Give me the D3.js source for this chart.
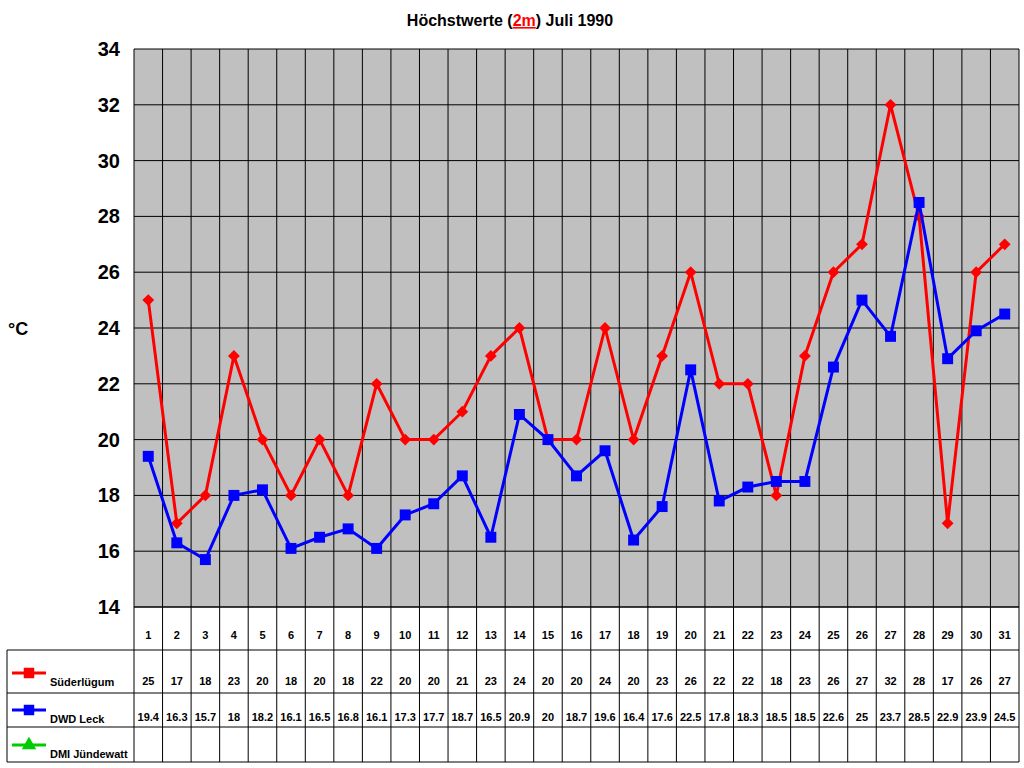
<!DOCTYPE html>
<html><head><meta charset="utf-8">
<script src="https://cdn.jsdelivr.net/npm/d3@7"></script>
<style>body{margin:0;background:#fff}text{font-family:"Liberation Sans",Arial,sans-serif}</style>
</head><body><svg id="c" width="1024" height="768"></svg>
<script>
const days = d3.range(1,32);
const suederluegum = [25,17,18,23,20,18,20,18,22,20,20,21,23,24,20,20,24,20,23,26,22,22,18,23,26,27,32,28,17,26,27];
const dwdLeck = [19.4,16.3,15.7,18,18.2,16.1,16.5,16.8,16.1,17.3,17.7,18.7,16.5,20.9,20,18.7,19.6,16.4,17.6,22.5,17.8,18.3,18.5,18.5,22.6,25,23.7,28.5,22.9,23.9,24.5];
const yTicks = [14,16,18,20,22,24,26,28,30,32,34];

const svg = d3.select("#c");
const L=134,R=1019,T=49,B=607;
const x = d3.scaleBand().domain(days).range([L,R]);
const y = d3.scaleLinear().domain([14,34]).range([B,T]);

svg.append("rect").attr("x",L).attr("y",T).attr("width",R-L).attr("height",B-T).attr("fill","#c0c0c0");
// horizontal grid
svg.append("g").selectAll("line").data(yTicks).join("line")
 .attr("x1",L).attr("x2",R).attr("y1",d=>y(d)).attr("y2",d=>y(d)).attr("stroke","#000");
// vertical lines through plot and table
svg.append("g").selectAll("line").data(days.concat([32])).join("line")
 .attr("x1",d=>d<=31?x(d):R).attr("x2",d=>d<=31?x(d):R).attr("y1",T).attr("y2",762).attr("stroke","#000");
// table rows
const rowLines=[650,693,727,762];
svg.append("g").selectAll("line").data(rowLines).join("line")
 .attr("x1",7).attr("x2",R).attr("y1",d=>d).attr("y2",d=>d).attr("stroke","#000");
svg.append("line").attr("x1",7).attr("x2",7).attr("y1",650).attr("y2",762).attr("stroke","#000");
svg.append("line").attr("x1",L).attr("x2",R).attr("y1",B).attr("y2",B).attr("stroke","#000");

// y ticks
svg.append("g").selectAll("text").data(yTicks).join("text")
 .attr("x",120).attr("y",d=>y(d)+7).attr("text-anchor","end").attr("font-size",20).attr("font-weight","bold").text(d=>d);
svg.append("text").attr("x",8).attr("y",335).attr("font-size",18).attr("font-weight","bold").text("°C");

// title
const t=svg.append("text").attr("x",510).attr("y",26).attr("text-anchor","middle").attr("font-size",16).attr("font-weight","bold");
t.append("tspan").text("Höchstwerte (");
t.append("tspan").attr("fill","#f00").attr("text-decoration","underline").text("2m");
t.append("tspan").text(") Juli 1990");

const cx=d=>x(d)+x.bandwidth()/2;
// table texts
const tbl=svg.append("g").attr("font-size",11).attr("font-weight","bold").attr("text-anchor","middle");
tbl.selectAll(".d").data(days).join("text").attr("x",cx).attr("y",639).text(d=>d);
tbl.selectAll(".s").data(suederluegum).join("text").attr("x",(d,i)=>cx(days[i])).attr("y",685).text(d=>d);
tbl.selectAll(".w").data(dwdLeck).join("text").attr("x",(d,i)=>cx(days[i])).attr("y",721).text(d=>d);

// legend
function leg(yy,col,label,shape){
 svg.append("line").attr("x1",12).attr("x2",46).attr("y1",yy).attr("y2",yy).attr("stroke",col).attr("stroke-width",3);
 svg.append("path").attr("d",d3.symbol(shape,shape===d3.symbolSquare?110:90)()).attr("transform",`translate(29,${yy})${shape===d3.symbolSquare?"":shape===d3.symbolTriangle?"":" rotate(45)"}`).attr("fill",col);
 svg.append("text").attr("x",50).attr("y",yy+13).attr("font-size",11).attr("font-weight","bold").text(label);
}
leg(673,"#f00","Süderlügum",d3.symbolSquare);
leg(710,"#00f","DWD Leck",d3.symbolSquare);
leg(745,"#0c0","DMI Jündewatt",d3.symbolTriangle);

// series
function series(vals,col,diamond){
 svg.append("path").datum(vals).attr("fill","none").attr("stroke",col).attr("stroke-width",3)
  .attr("d",d3.line().x((d,i)=>cx(days[i])).y(d=>y(d)));
 svg.append("g").selectAll("path").data(vals).join("path")
  .attr("d",d3.symbol(d3.symbolSquare,diamond?70:120)())
  .attr("transform",(d,i)=>`translate(${cx(days[i])},${y(d)})${diamond?" rotate(45)":""}`).attr("fill",col);
}
series(suederluegum,"#f00",true);
series(dwdLeck,"#00f",false);
</script></body></html>
